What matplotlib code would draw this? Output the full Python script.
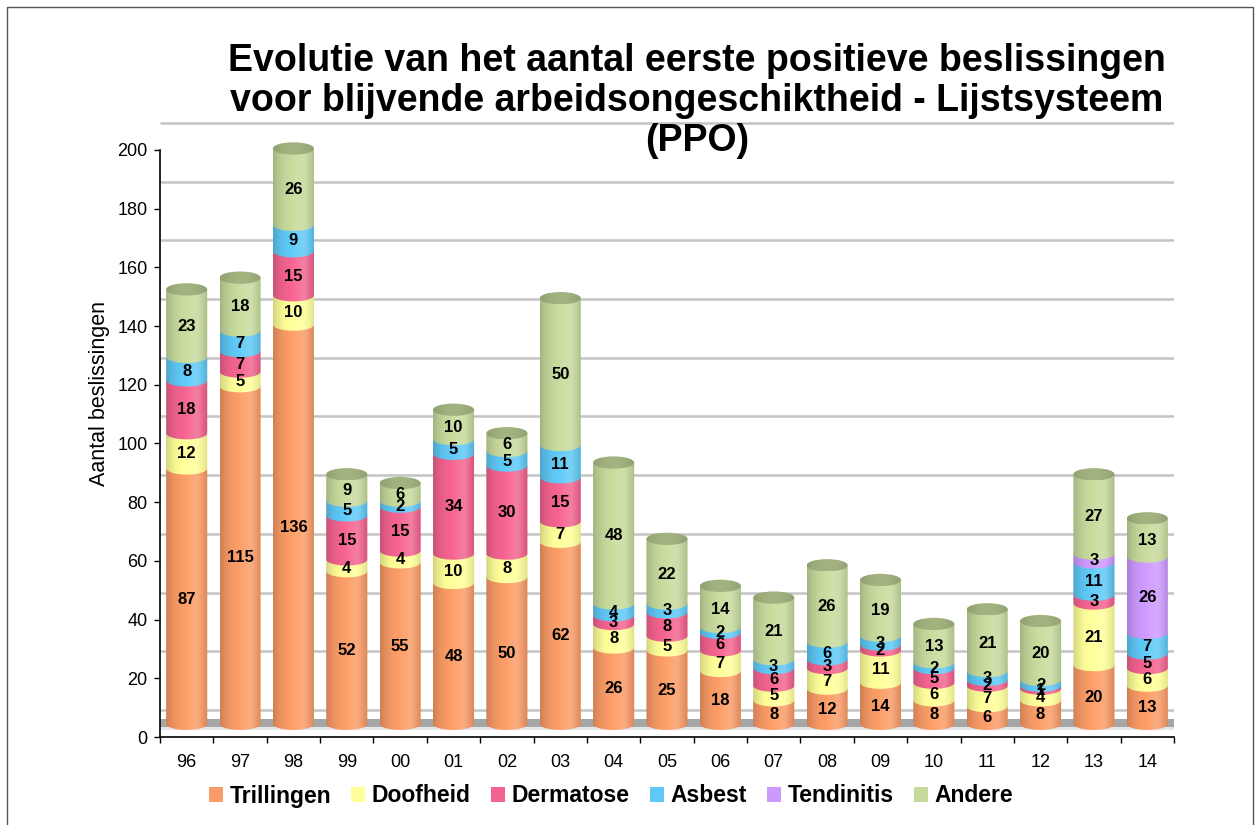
import numpy as np
import matplotlib
matplotlib.use("Agg")
import matplotlib.pyplot as plt
from matplotlib.patches import Ellipse, PathPatch, Patch, Rectangle
from matplotlib.path import Path
import matplotlib.colors as mcolors

plt.rcParams['font.family'] = ['Liberation Sans', 'DejaVu Sans']

years = ["96", "97", "98", "99", "00", "01", "02", "03", "04", "05",
         "06", "07", "08", "09", "10", "11", "12", "13", "14"]
trillingen = [87, 115, 136, 52, 55, 48, 50, 62, 26, 25, 18, 8, 12, 14, 8, 6, 8, 20, 13]
doofheid   = [12, 5, 10, 4, 4, 10, 8, 7, 8, 5, 7, 5, 7, 11, 6, 7, 4, 21, 6]
dermatose  = [18, 7, 15, 15, 15, 34, 30, 15, 3, 8, 6, 6, 3, 2, 5, 2, 1, 3, 5]
asbest     = [8, 7, 9, 5, 2, 5, 5, 11, 4, 3, 2, 3, 6, 3, 2, 3, 2, 11, 7]
tendinitis = [0, 0, 0, 0, 0, 0, 0, 0, 0, 0, 0, 0, 0, 0, 0, 0, 0, 3, 26]
andere     = [23, 18, 26, 9, 6, 10, 6, 50, 48, 22, 14, 21, 26, 19, 13, 21, 20, 27, 13]

series_names = ["Trillingen", "Doofheid", "Dermatose", "Asbest", "Tendinitis", "Andere"]
series_vals = [trillingen, doofheid, dermatose, asbest, tendinitis, andere]
colors = ["#F99B66", "#FFFF99", "#F3638F", "#5FC8F5", "#CC99FF", "#C6D99C"]
top_color = "#9DAD7B"

yticks = [0, 20, 40, 60, 80, 100, 120, 140, 160, 180, 200]

W, H = 1255, 825
fig = plt.figure(figsize=(W / 100, H / 100), dpi=100)
ax = fig.add_axes([160 / W, 1 - 737 / H, (1174 - 160) / W, (737 - 120.6) / H])
ax.set_xlim(-0.5, len(years) - 0.5)
ax.set_ylim(0, 210)

BASE = 4.5       # height of the floor the cylinders stand on
BACK = 9.2       # vertical offset of the back wall (3D depth)
BW = 0.77        # cylinder width
EH = 4.2         # ellipse height in data units

# back wall gridlines
for v in yticks:
    ax.plot([-0.5, len(years) - 0.5], [v + BACK, v + BACK], color="#C4C4C4", lw=1.8,
            zorder=0.5, solid_capstyle='butt')
# floor
ax.add_patch(Rectangle((-0.5, 3.4), len(years), 2.7, color="#A6A6A6", lw=0, zorder=0.6))
ax.add_patch(Rectangle((-0.5, 2.4), len(years), 1.0, color="#E6E6E6", lw=0, zorder=0.6))

# gradient for cylinder shading
u = np.linspace(0, 1, 200)
shade = 0.72 + 0.30 * np.sin(np.pi * np.clip(u * 0.85 + 0.05, 0, 1)) ** 0.6
light = np.clip((u - 0.45) / 0.3, 0, 1) * np.clip((0.95 - u) / 0.2, 0, 1) * 0.18


def grad_img(col):
    rgb = np.array(mcolors.to_rgb(col))
    img = rgb[None, :] * shade[:, None]
    img = img + (1 - img) * light[:, None]
    return np.clip(img[None, :, :], 0, 1)


def seg_path(xc, b, t):
    th = np.linspace(0, np.pi, 40)
    xs = xc - BW / 2 * np.cos(th)
    ys = b - EH / 2 * np.sin(th)
    verts = [(xc - BW / 2, t)] + list(zip(xs, ys)) + [(xc + BW / 2, t), (xc - BW / 2, t)]
    codes = [Path.MOVETO] + [Path.LINETO] * (len(verts) - 2) + [Path.CLOSEPOLY]
    return Path(verts, codes)


z = 2
for i, yr in enumerate(years):
    cum = BASE
    for s, (vals, col) in enumerate(zip(series_vals, colors)):
        v = vals[i]
        if v == 0:
            continue
        b, t = cum, cum + v
        patch = PathPatch(seg_path(i, b, t), facecolor='none', edgecolor='none', zorder=z)
        ax.add_patch(patch)
        im = ax.imshow(grad_img(col), extent=(i - BW / 2, i + BW / 2, b - EH, t),
                       aspect='auto', zorder=z, interpolation='bilinear')
        im.set_clip_path(patch)
        z += 0.01
        cum = t
    # top ellipse
    top = Ellipse((i, cum), BW, EH, zorder=z, facecolor='none', edgecolor='none')
    ax.add_patch(top)
    rgb = np.array(mcolors.to_rgb(top_color))
    timg = rgb[None, None, :] * (0.92 + 0.12 * np.sin(np.pi * u))[None, :, None]
    imt = ax.imshow(np.clip(timg, 0, 1), extent=(i - BW / 2, i + BW / 2, cum - EH / 2, cum + EH / 2),
                    aspect='auto', zorder=z, interpolation='bilinear')
    imt.set_clip_path(top)
    z += 0.01

# labels
for i in range(len(years)):
    cum = BASE
    for vals in series_vals:
        v = vals[i]
        if v == 0:
            continue
        ax.text(i, cum + v / 2 - 1.0, str(v), ha='center', va='center', fontsize=12,
                fontweight='bold', color='black', zorder=50)
        cum += v

ax.set_xticks(range(len(years)))
ax.set_xticklabels(years, fontsize=13)
ax.set_xticks(np.arange(-0.5, len(years)), minor=True)
ax.tick_params(axis='x', which='major', length=0, pad=12)
ax.tick_params(axis='x', which='minor', length=4, width=1, direction='out')
ax.set_yticks(yticks)
ax.set_yticklabels([str(v) for v in yticks], fontsize=13)
ax.tick_params(axis='y', length=4, width=1, direction='out', pad=5)
for sp in ['top', 'right']:
    ax.spines[sp].set_visible(False)
ax.spines['left'].set_bounds(0, 200)
ax.spines['left'].set_linewidth(1.2)
ax.spines['bottom'].set_linewidth(1.2)

fig.text(100 / W, 1 - 394 / H, "Aantal beslissingen", rotation=90, ha='center', va='center',
         fontsize=15.5)

fig.text(697 / W, 1 - 101 / H,
         "Evolutie van het aantal eerste positieve beslissingen\n"
         "voor blijvende arbeidsongeschiktheid - Lijstsysteem\n(PPO)",
         ha='center', va='center', fontsize=27, fontweight='bold', linespacing=1.16)

handles = [Patch(facecolor=c, edgecolor='none') for c in colors]
fig.legend(handles, series_names, loc='center', bbox_to_anchor=(611 / W, 1 - 796 / H),
           ncol=6, frameon=False, prop={'size': 16.5, 'weight': 'bold'},
           handlelength=0.6, handleheight=0.6, handletextpad=0.3, columnspacing=0.88)

fig.add_artist(Rectangle((7 / W, -0.05), (1253 - 7) / W, 1 - 7 / H + 0.05,
                         transform=fig.transFigure, fill=False, edgecolor='#555555', lw=1))

fig.savefig("out.png", dpi=100)
